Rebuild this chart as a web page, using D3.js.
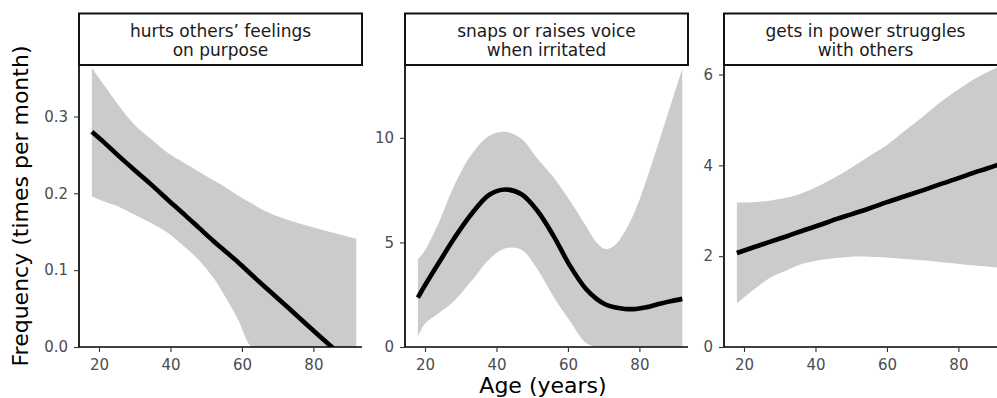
<!DOCTYPE html>
<html>
<head>
<meta charset="utf-8">
<script src="https://cdn.jsdelivr.net/npm/d3@7"></script>
<style>
  html, body { margin: 0; padding: 0; background: #fff; }
  svg { display: block; font-family: "DejaVu Sans", sans-serif; }
</style>
</head>
<body>
<svg id="chart" width="997" height="398"></svg>
<script>
// Facet titles (two lines each)
const facetTitles = [
  ["hurts others\u2019 feelings", "on purpose"],
  ["snaps or raises voice", "when irritated"],
  ["gets in power struggles", "with others"]
];

// Panel 1: hurts others' feelings on purpose
const ages1  = [18, 21.7, 25.4, 30, 34.7, 39.4, 44, 48, 52, 55, 59, 62.7, 66, 72.5, 82, 92];
const fit1   = [0.280, 0.265, 0.249, 0.230, 0.211, 0.191, 0.172, 0.155, 0.138, 0.126, 0.110, 0.094, 0.080, 0.053, 0.013, -0.028];
const upper1 = [0.363, 0.339, 0.315, 0.289, 0.270, 0.252, 0.239, 0.228, 0.217, 0.209, 0.197, 0.187, 0.178, 0.166, 0.153, 0.141];
const lower1 = [0.196, 0.189, 0.183, 0.172, 0.161, 0.148, 0.130, 0.113, 0.090, 0.068, 0.035, 0.000, 0.000, 0.000, 0.000, 0.000];

// Panel 2: snaps or raises voice when irritated
const ages2  = [18, 20, 24, 28, 33, 38, 42.5, 47, 51.5, 56, 60.5, 65, 68, 70.5, 73, 76, 79, 82, 86, 89, 92];
const fit2   = [2.36, 2.95, 4.06, 5.15, 6.36, 7.28, 7.53, 7.30, 6.50, 5.30, 3.90, 2.78, 2.30, 2.03, 1.90, 1.82, 1.82, 1.90, 2.08, 2.20, 2.30];
const upper2 = [4.18, 4.63, 6.00, 7.65, 9.20, 10.10, 10.29, 9.95, 9.00, 8.10, 7.00, 5.80, 5.00, 4.68, 4.85, 5.55, 6.60, 8.00, 10.10, 11.70, 13.30];
const lower2 = [0.48, 1.12, 1.64, 2.18, 3.15, 4.20, 4.72, 4.65, 3.70, 2.39, 1.25, 0.20, 0.00, 0.00, 0.00, 0.00, 0.00, 0.00, 0.00, 0.00, 0.00];

// Panel 3: gets in power struggles with others
const ages3  = [18, 22.5, 27, 32, 36, 41, 46, 50, 55, 60, 65, 70, 74, 79, 84, 88, 92];
const fit3   = [2.07, 2.19, 2.31, 2.44, 2.55, 2.68, 2.82, 2.92, 3.05, 3.19, 3.32, 3.45, 3.56, 3.69, 3.83, 3.93, 4.04];
const upper3 = [3.18, 3.19, 3.22, 3.29, 3.38, 3.55, 3.76, 3.95, 4.20, 4.45, 4.76, 5.07, 5.33, 5.62, 5.88, 6.05, 6.20];
const lower3 = [0.96, 1.25, 1.51, 1.69, 1.82, 1.91, 1.96, 1.99, 1.99, 1.97, 1.94, 1.91, 1.88, 1.84, 1.80, 1.77, 1.74];

// Axis limits and ticks
const xLimits = [14.4, 93.6];
const xTicks = [20, 40, 60, 80];
const yTops = [0.367, 13.48, 6.21];
const yTicks = [[0, 0.1, 0.2, 0.3], [0, 5, 10], [0, 2, 4, 6]];
const yFormats = [".1f", "d", "d"];

const xTitle = "Age (years)";
const yTitle = "Frequency (times per month)";

const panels = [
  { ages: ages1, fit: fit1, upper: upper1, lower: lower1 },
  { ages: ages2, fit: fit2, upper: upper2, lower: lower2 },
  { ages: ages3, fit: fit3, upper: upper3, lower: lower3 }
];

// Layout
const panelLefts = [79, 405, 724];
const panelW = 283;
const plotTop = 65, plotBottom = 347;
const stripTop = 13.5;

const svg = d3.select("#chart");
const defs = svg.append("defs");

panels.forEach((p, i) => {
  const left = panelLefts[i];
  const x = d3.scaleLinear().domain(xLimits).range([left, left + panelW]);
  const y = d3.scaleLinear().domain([0, yTops[i]]).range([plotBottom, plotTop]);

  const clipId = "clip" + i;
  defs.append("clipPath").attr("id", clipId)
    .append("rect")
    .attr("x", left).attr("y", plotTop)
    .attr("width", panelW).attr("height", plotBottom - plotTop);

  const g = svg.append("g");
  const data = p.ages.map((a, k) => ({ age: a, fit: p.fit[k], lo: p.lower[k], hi: p.upper[k] }));

  const curve = d3.curveCatmullRom.alpha(0.5);
  const area = d3.area()
    .x(d => x(d.age))
    .y0(d => y(d.lo))
    .y1(d => y(d.hi))
    .curve(curve);
  const line = d3.line()
    .x(d => x(d.age))
    .y(d => y(d.fit))
    .curve(curve);

  const body = g.append("g").attr("clip-path", `url(#${clipId})`);
  body.append("path").attr("d", area(data)).attr("fill", "#cbcbcb");
  body.append("path").attr("d", line(data))
    .attr("fill", "none").attr("stroke", "#000").attr("stroke-width", 4.6)
    .attr("stroke-linejoin", "round");

  // Axes
  const xAxis = d3.axisBottom(x).tickValues(xTicks).tickSize(5).tickPadding(7);
  const yAxis = d3.axisLeft(y).tickValues(yTicks[i]).tickSize(5).tickPadding(6)
    .tickFormat(d3.format(yFormats[i]));

  const gx = g.append("g").attr("transform", `translate(0,${plotBottom})`).call(xAxis);
  const gy = g.append("g").attr("transform", `translate(${left},0)`).call(yAxis);
  [gx, gy].forEach(ax => {
    ax.select(".domain").attr("stroke", "#000").attr("stroke-width", 1.7);
    ax.selectAll(".tick line").attr("stroke", "#333").attr("stroke-width", 1.1);
    ax.selectAll(".tick text")
      .attr("fill", "#4d4d4d")
      .style("font-size", "15px")
      .style("font-family", "'DejaVu Sans', sans-serif");
  });
  // Axis lines span the full panel without end caps
  gx.select(".domain").attr("d", `M${left},0H${left + panelW}`);
  gy.select(".domain").attr("d", `M0,${plotBottom}V${plotTop}`);

  // Facet strip
  const strip = g.append("g");
  strip.append("rect")
    .attr("x", left).attr("y", stripTop)
    .attr("width", panelW).attr("height", plotTop - stripTop)
    .attr("fill", "#fff").attr("stroke", "#111").attr("stroke-width", 2);
  facetTitles[i].forEach((t, k) => {
    strip.append("text")
      .attr("x", left + panelW / 2)
      .attr("y", 36.5 + k * 19.5)
      .attr("text-anchor", "middle")
      .attr("fill", "#1a1a1a")
      .style("font-size", "17px")
      .text(t);
  });
});

// Shared axis titles
svg.append("text")
  .attr("x", (panelLefts[0] + panelLefts[2] + panelW) / 2)
  .attr("y", 393)
  .attr("text-anchor", "middle")
  .attr("fill", "#000")
  .style("font-size", "22px")
  .text(xTitle);

svg.append("text")
  .attr("transform", `translate(28,${(plotTop + plotBottom) / 2}) rotate(-90)`)
  .attr("text-anchor", "middle")
  .attr("fill", "#000")
  .style("font-size", "22px")
  .text(yTitle);
</script>
</body>
</html>
